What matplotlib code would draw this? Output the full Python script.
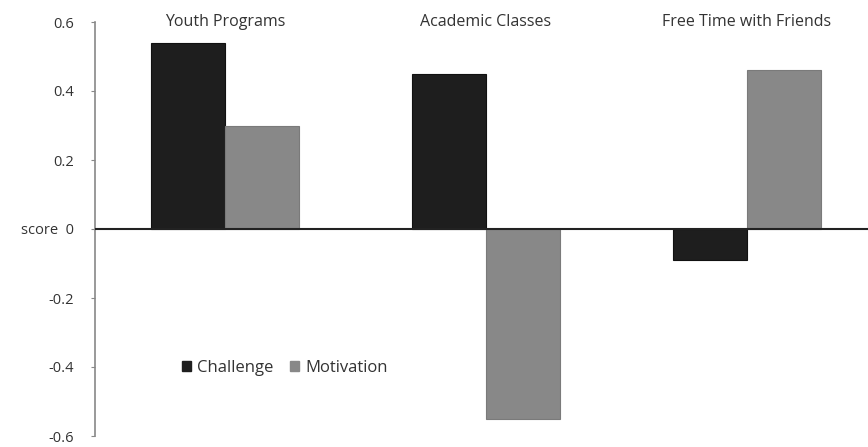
import numpy as np
import matplotlib
matplotlib.use('Agg')
import matplotlib.pyplot as plt
from matplotlib.patches import Patch

# 数据
categories = ['Youth Programs', 'Academic Classes', 'Free Time with Friends']
challenge = [0.54, 0.45, -0.09]
motivation = [0.30, -0.55, 0.46]
yticks = [-0.6, -0.4, -0.2, 0, 0.2, 0.4, 0.6]
ytick_labels = ['-0.6', '-0.4', '-0.2', 'score  0', '0.2', '0.4', '0.6']

plt.rcParams['font.family'] = ['Open Sans', 'DejaVu Sans']

fig = plt.figure(figsize=(8.68, 4.47), dpi=100)
ax = fig.add_axes([95 / 868, 11 / 447, 1 - 95 / 868, 414 / 447])

x = np.arange(len(categories))
w = 0.285
ax.bar(x - w / 2, challenge, w, color='#1e1e1e', edgecolor='#111111', linewidth=0.8, zorder=2)
ax.bar(x + w / 2, motivation, w, color='#888888', edgecolor='#7a7a7a', linewidth=0.8, zorder=2)

ax.axhline(0, color='#222222', linewidth=1.5, zorder=3)

ax.set_xlim(-0.498, 2.464)
ax.set_ylim(-0.6, 0.6)
ax.set_yticks(yticks)
ax.set_yticklabels(ytick_labels, fontsize=10.5, color='#333333')
ax.set_xticks([])
ax.tick_params(axis='y', length=3, color='#888888', pad=12)

for s in ['top', 'right', 'bottom']:
    ax.spines[s].set_visible(False)
ax.spines['left'].set_color('#888888')
ax.spines['left'].set_linewidth(1.2)

for i, c in enumerate(categories):
    ax.text(x[i], 0.6, c, ha='center', va='center', fontsize=11.5, color='#333333')

handles = [Patch(color='#1e1e1e', label='Challenge'), Patch(color='#888888', label='Motivation')]
ax.legend(handles=handles, loc='center', bbox_to_anchor=(0.246, 0.165), ncol=2, frameon=False,
          fontsize=12, handlelength=0.5, handleheight=0.5, handletextpad=0.4, columnspacing=1.0,
          labelcolor='#333333')

fig.savefig('out.png', dpi=100)
